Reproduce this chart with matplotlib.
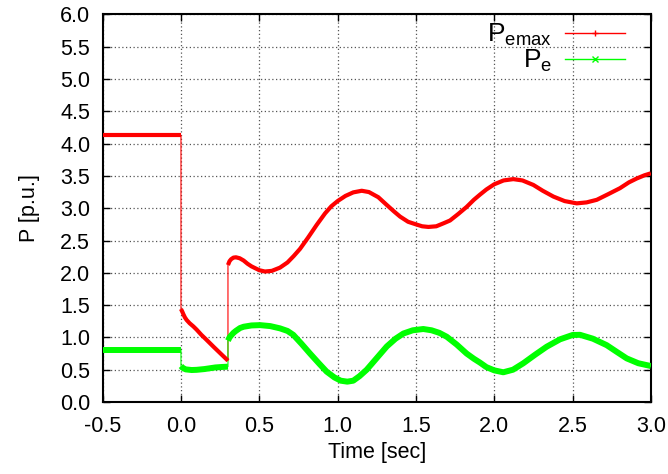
import numpy as np
import matplotlib
matplotlib.use('Agg')
import matplotlib.pyplot as plt
from matplotlib.lines import Line2D

plt.rcParams['font.family'] = ['Liberation Sans', 'DejaVu Sans']
plt.rcParams['mathtext.default'] = 'regular'

# pre-fault, fault-on and post-fault windows (time in seconds)
t_pre = [-0.5, 0.0]
pemax_pre = [4.13, 4.13]
pe_pre = [0.8, 0.8]

t_fault = [0.0, 0.008, 0.015, 0.025, 0.036, 0.055, 0.079, 0.1, 0.13, 0.16,
           0.185, 0.21, 0.24, 0.27, 0.3]
pemax_fault = [1.44, 1.40, 1.36, 1.31, 1.27, 1.22, 1.17, 1.12, 1.04, 0.97,
               0.91, 0.85, 0.78, 0.71, 0.64]
t_fault_e = [0.0, 0.01, 0.03, 0.068, 0.1, 0.15, 0.22, 0.26, 0.3]
pe_fault = [0.557, 0.53, 0.505, 0.495, 0.498, 0.51, 0.535, 0.542, 0.547]

t_post = [0.3, 0.31, 0.32, 0.335, 0.351, 0.375, 0.4, 0.425, 0.45, 0.5, 0.536,
          0.58, 0.632, 0.68, 0.72, 0.76, 0.81, 0.866, 0.92, 0.96, 1.0, 1.05,
          1.1, 1.154, 1.2, 1.26, 1.314, 1.36, 1.399, 1.45, 1.5, 1.54, 1.58,
          1.63, 1.68, 1.718, 1.77, 1.824, 1.87, 1.909, 1.95, 2.0, 2.06, 2.122,
          2.18, 2.25, 2.31, 2.378, 2.45, 2.527, 2.59, 2.655, 2.73, 2.803,
          2.86, 2.91, 2.96, 3.0]
pemax_post = [2.12, 2.18, 2.21, 2.235, 2.24, 2.225, 2.19, 2.14, 2.10, 2.04, 2.02,
              2.03, 2.08, 2.16, 2.26, 2.37, 2.54, 2.74, 2.92, 3.03, 3.11, 3.19,
              3.245, 3.27, 3.25, 3.17, 3.05, 2.95, 2.87, 2.79, 2.75, 2.72, 2.71,
              2.72, 2.77, 2.81, 2.91, 3.02, 3.13, 3.21, 3.29, 3.37, 3.43, 3.45,
              3.43, 3.36, 3.27, 3.18, 3.11, 3.075, 3.09, 3.13, 3.22, 3.31,
              3.40, 3.46, 3.51, 3.54]

t_post_e = [0.3, 0.31, 0.32, 0.335, 0.35, 0.377, 0.4, 0.45, 0.505, 0.57, 0.632,
            0.68, 0.717, 0.77, 0.824, 0.88, 0.93, 0.98, 1.02, 1.062, 1.1, 1.14,
            1.186, 1.25, 1.314, 1.37, 1.42, 1.48, 1.547, 1.6, 1.65, 1.697,
            1.76, 1.824, 1.87, 1.909, 1.95, 2.0, 2.058, 2.12, 2.186, 2.26,
            2.335, 2.42, 2.5, 2.548, 2.63, 2.718, 2.78, 2.846, 2.92, 3.0]
pe_post = [0.95, 1.0, 1.03, 1.07, 1.10, 1.145, 1.165, 1.185, 1.19, 1.175, 1.14,
           1.10, 1.04, 0.90, 0.75, 0.60, 0.47, 0.38, 0.33, 0.315, 0.33, 0.40,
           0.50, 0.68, 0.86, 0.98, 1.06, 1.11, 1.13, 1.11, 1.07, 1.01,
           0.89, 0.75, 0.67, 0.61, 0.54, 0.49, 0.46, 0.50, 0.60, 0.73,
           0.856, 0.97, 1.037, 1.04, 0.98, 0.88, 0.78, 0.675, 0.60, 0.557]

RED = '#ff0000'
GREEN = '#00ff00'

fig = plt.figure(figsize=(6.68, 4.74), dpi=100)
ax = fig.add_axes([0.1537, 0.1519, 0.8206, 0.8177])

# thin connecting line (shows the switching jumps)
t_all = t_pre + t_fault + t_post
ax.plot(t_all, pemax_pre + pemax_fault + pemax_post, color=RED, lw=0.8, zorder=3)
t_all_e = t_pre + t_fault_e + t_post_e
ax.plot(t_all_e, pe_pre + pe_fault + pe_post, color=GREEN, lw=0.8, zorder=3)

# thick traces for each window
for tt, yy in [(t_pre, pe_pre), (t_fault_e, pe_fault), (t_post_e, pe_post)]:
    ax.plot(tt, yy, color=GREEN, lw=4.3, solid_capstyle='butt',
            solid_joinstyle='round', zorder=4)
for tt, yy in [(t_pre, pemax_pre), (t_fault, pemax_fault), (t_post, pemax_post)]:
    ax.plot(tt, yy, color=RED, lw=3.0, solid_capstyle='butt',
            solid_joinstyle='round', zorder=5)

ax.set_xlim(-0.5, 3.0)
ax.set_ylim(0.0, 6.0)
ax.set_xticks(np.arange(-0.5, 3.01, 0.5))
ax.set_yticks(np.arange(0.0, 6.01, 0.5))
ax.xaxis.set_major_formatter(matplotlib.ticker.FormatStrFormatter('%.1f'))
ax.yaxis.set_major_formatter(matplotlib.ticker.FormatStrFormatter('%.1f'))
ax.tick_params(direction='in', length=5, width=1, top=True, right=True,
               labelsize=15.5, colors='black')
ax.tick_params(axis='x', pad=10)
ax.tick_params(axis='y', pad=9)
ax.grid(True, color='#555555', linestyle=(0, (1, 2)), lw=0.9)
for s in ax.spines.values():
    s.set_linewidth(1.5)

ax.set_xlabel('Time [sec]', fontsize=15.5, labelpad=4)
ax.set_ylabel('P [p.u.]', fontsize=15.5, labelpad=14)

handles = [Line2D([], [], color=RED, lw=1, marker='+', markersize=5),
           Line2D([], [], color=GREEN, lw=1, marker='x', markersize=4)]
leg = ax.legend(handles, ['$P_{emax}$', '$P_{e}$'], loc='upper right',
                bbox_to_anchor=(0.952, 0.98), frameon=False, markerfirst=False,
                fontsize=19, handlelength=2.25, handletextpad=0.5,
                labelspacing=-0.02, borderaxespad=0, borderpad=0, numpoints=1)

fig.savefig('out.png', dpi=100)
